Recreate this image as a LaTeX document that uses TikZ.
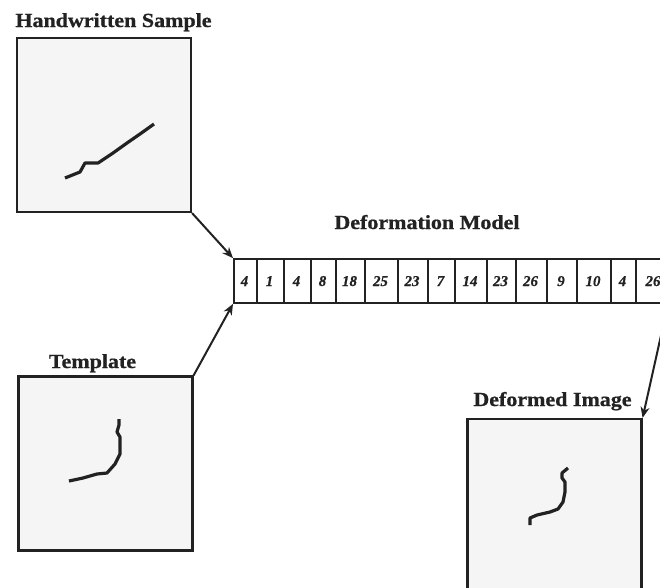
\documentclass[tikz,border=0pt]{standalone}
\usepackage{fontspec}
\setmainfont{Liberation Serif}
\newfontfamily\titlefont{Liberation Serif}[FakeStretch=1.1,FakeBold=0.8]
\newfontfamily\numfont{Liberation Serif}[FakeBold=0.6]
\usetikzlibrary{arrows.meta}
\definecolor{boxfill}{HTML}{F5F5F5}
\definecolor{ink}{HTML}{222222}
\tikzset{
  imgbox/.style={draw=ink, line width=2.2pt, fill=boxfill, minimum width=174pt, minimum height=174pt, inner sep=0pt},
  title/.style={anchor=base, inner sep=0pt, font=\titlefont\bfseries\fontsize{20}{24}\selectfont, text=ink},
  cell/.style={draw=ink, line width=1.7pt, minimum height=44pt, inner sep=0pt, anchor=west},
  num/.style={anchor=base, inner sep=0pt, font=\numfont\bfseries\itshape\fontsize{15}{17}\selectfont, text=ink},
  arr/.style={draw=ink, line width=2pt, -{Stealth[length=11pt,width=9pt]}},
  pen/.style={draw=ink, line width=3.2pt, line join=bevel}
}
\begin{document}
\begin{tikzpicture}[x=1pt,y=-1pt]
\useasboundingbox (0,0) rectangle (660,587);
% boxes
\node[imgbox] (hw) at (104,125) {};
\node[imgbox] (tp) at (105.5,463.5) {};
\node[imgbox] (df) at (554.5,506) {};
% titles
\node[title] (thw) at (113.5,27) {Handwritten Sample};
\node[title] (ttp) at (92.5,368) {Template};
\node[title] (tdm) at (427,229) {Deformation Model};
\node[title] (tdf) at (552.5,406) {Deformed Image};
% strokes
\draw[pen] (65,178) -- (80,172) -- (85,163) -- (98,163) -- (113,153) -- (127,143) -- (140,134) -- (154,124);
\draw[pen] (69,481) -- (83,478) -- (97,474) -- (107,473) -- (115,464) -- (120,454) -- (120,437) -- (117,432) -- (119,425) -- (119,419);
\draw[pen] (530,525) -- (530,518) -- (537,515) -- (550,512) -- (558,509) -- (563,502) -- (565,492) -- (565,482) -- (562,478) -- (562,473) -- (568,468);
% chain cells
\foreach \i/\a/\b in {1/233/256, 2/256/283, 3/283/310, 4/310/335, 5/335/364, 6/364/397, 7/397/427, 8/427/454, 9/454/486, 10/486/515, 11/515/546, 12/546/576, 13/576/610, 14/610/635, 15/635/672}{
  \node[cell, minimum width={\b-\a}] (c\i) at (\a,281) {};
}
\foreach \i/\x/\v in {1/244.5/4, 2/269.5/1, 3/296.5/4, 4/322.5/8, 5/349.5/18, 6/380.5/25, 7/412/23, 8/440.5/7, 9/470/14, 10/500.5/23, 11/530.5/26, 12/561/9, 13/593/10, 14/622.5/4, 15/653/26}{
  \node[num] (n\i) at (\x,286) {\v};
}
% arrows
\coordinate (ce) at (664,322);
\draw[arr] (hw.south east) -- (c1.north west);
\draw[arr] (tp.north east) -- (c1.south west);
\draw[arr] (ce) -- (df.north east);
\end{tikzpicture}
\end{document}
